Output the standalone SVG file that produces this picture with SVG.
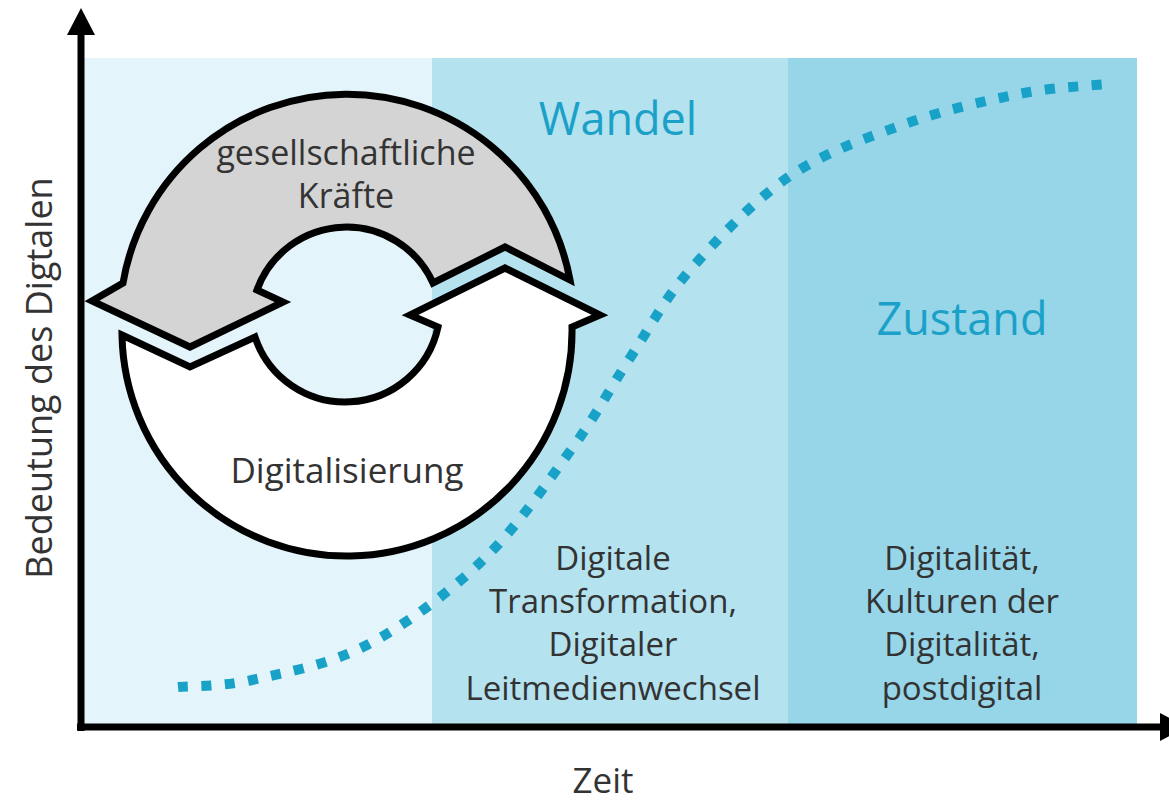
<svg xmlns="http://www.w3.org/2000/svg" width="1169" height="804" viewBox="0 0 1169 804">
  <style>
    .txt { font-family: "Open Sans", "Noto Sans", "Liberation Sans", sans-serif; fill: #333333; text-anchor: middle; }
    .big { font-family: "Open Sans", "Noto Sans", "Liberation Sans", sans-serif; fill: #1ba1c8; text-anchor: middle; font-size: 45px; }
    .arrow { stroke: #000; stroke-width: 7; stroke-linejoin: miter; stroke-miterlimit: 10; }
    .axis { stroke: #000; stroke-width: 7; fill: none; }
  </style>
  <rect width="1169" height="804" fill="#ffffff"/>
  <g id="panels">
    <rect x="81" y="58" width="351" height="669" fill="#e3f4fa"/>
    <rect x="432" y="58" width="356" height="669" fill="#b4e2ef"/>
    <rect x="788" y="58" width="349" height="669" fill="#96d6e8"/>
  </g>
  <g id="curve">
    <path d="M178,687 C190.3,685.8 220.5,687 252,680 C283.5,673 328.5,665 367,645 C405.5,625 448.7,593 483,560 C517.3,527 548.5,480.7 573,447 C597.5,413.3 610.5,387.5 630,358 C649.5,328.5 663.3,300.3 690,270 C716.7,239.7 754.2,200.3 790,176 C825.8,151.7 866.8,137.7 905,124 C943.2,110.3 985.7,100.7 1019,94 C1052.3,87.3 1090.7,85.7 1108,84" fill="none" stroke="#19a2c8" stroke-width="10" stroke-dasharray="10 13.5"/>
  </g>
  <g id="labels">
    <text class="big" x="618" y="135">Wandel</text>
    <text class="big" x="962" y="335">Zustand</text>
  </g>
  <g id="node-gesellschaft">
    <path class="arrow" fill="#d4d4d4" d="M570,280 A227,227 0 0 0 123,283 L92,301 L190,347 L283,302 L257,290 A95,95 0 0 1 433,283 L505,247 Z"/>
    <text class="txt" font-size="34" x="346" y="165">gesellschaftliche</text>
    <text class="txt" font-size="34" x="346" y="208">Kräfte</text>
  </g>
  <g id="node-digitalisierung">
    <path class="arrow" fill="#ffffff" d="M122,335 L190,367 L255,337 A95,95 0 0 0 438,327 L410,315 L505,268 L600,315 L572,327 A224,224 0 0 1 122,335 Z"/>
    <text class="txt" font-size="35" x="347" y="483">Digitalisierung</text>
  </g>
  <g id="node-transformation">
    <text class="txt" font-size="33" x="613" y="570">Digitale</text>
    <text class="txt" font-size="33" x="613" y="613">Transformation,</text>
    <text class="txt" font-size="33" x="613" y="656">Digitaler</text>
    <text class="txt" font-size="33" x="613" y="700">Leitmedienwechsel</text>
  </g>
  <g id="node-digitalitaet">
    <text class="txt" font-size="33" x="962" y="570">Digitalität,</text>
    <text class="txt" font-size="33" x="962" y="613">Kulturen der</text>
    <text class="txt" font-size="33" x="962" y="656">Digitalität,</text>
    <text class="txt" font-size="33" x="962" y="700">postdigital</text>
  </g>
  <g id="axes">
    <line class="axis" x1="81" y1="30" x2="81" y2="731"/>
    <line class="axis" x1="77" y1="727" x2="1162" y2="727"/>
    <polygon points="81,8 67,35 95,35" fill="#000"/>
    <polygon points="1186,727 1160,713 1160,741" fill="#000"/>
    <text class="txt" font-size="35" x="603" y="793">Zeit</text>
    <text class="txt" font-size="36" transform="translate(52,378) rotate(-90)">Bedeutung des Digtalen</text>
  </g>
</svg>
